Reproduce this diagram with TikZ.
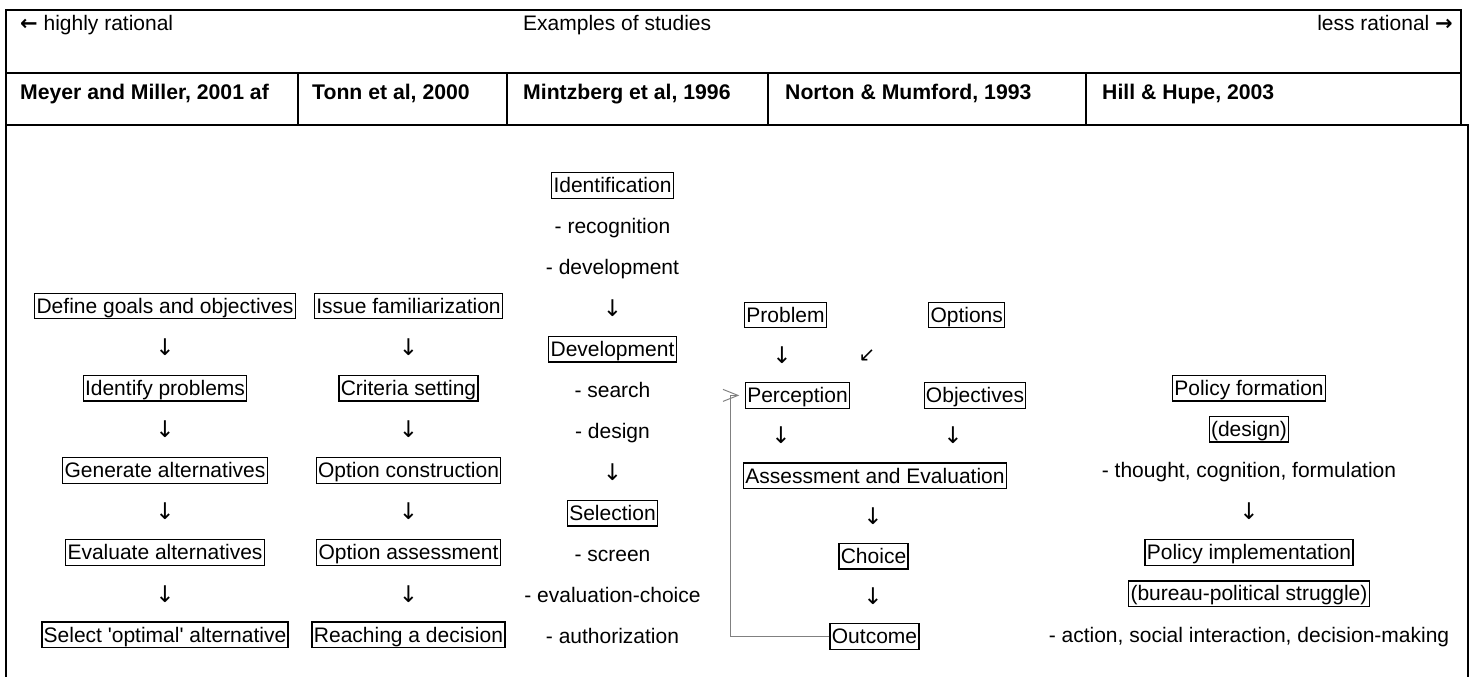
\documentclass[tikz,border=0pt]{standalone}
\usepackage{fontspec}
\setmainfont{Liberation Sans}[Ligatures=TeXOff]
\newfontfamily\symfont{DejaVu Sans}
\usetikzlibrary{arrows.meta}

\begin{document}
\begin{tikzpicture}[x=1pt,y=-1pt,
  every node/.style={font=\fontsize{21}{24}\selectfont, inner sep=0pt},
  item/.style={text height=18.8pt, text depth=4.4pt, inner xsep=1.8pt, inner ysep=1.2pt},
  boxed/.style={item, draw, line width=1.3pt},
  plain/.style={item},
  down/.style={font=\symfont\fontsize{23}{26}\selectfont},
  diag/.style={font=\symfont\fontsize{20}{24}\selectfont},
  head/.style={anchor=base west},
  colhead/.style={anchor=base west, font=\fontsize{21.2}{24}\selectfont\bfseries},
  rule/.style={line width=2pt, line cap=rect},
  feedback/.style={draw=black!50, line width=1pt,
    -{Straight Barb[length=15pt, width=12pt, line width=1pt]}, shorten >=5.5pt}
]
\useasboundingbox (0,0) rectangle (1473,677);

% table frame
\draw[rule] (6,677) -- (6,10) -- (1461,10) -- (1461,124.5);
\draw[rule] (6,73) -- (1461,73);
\draw[rule] (6,124.5) -- (1468,124.5) -- (1468,677);
\foreach \x in {298,507,768,1086} \draw[rule] (\x,73) -- (\x,124.5);

% header rows
\node[head] (lefthead) at (20,30.5) {{\symfont\bfseries ←} highly rational};
\node[head] (midhead) at (523,30.5) {Examples of studies};
\node[head, anchor=base east] (righthead) at (1453,30.5) {less rational {\symfont\bfseries →}};

\node[colhead] (h1) at (20,99.5) {Meyer and Miller, 2001 af};
\node[colhead] (h2) at (312,99.5) {Tonn et al, 2000};
\node[colhead] (h3) at (523,99.5) {Mintzberg et al, 1996};
\node[colhead] (h4) at (785,99.5) {Norton \& Mumford, 1993};
\node[colhead] (h5) at (1102,99.5) {Hill \& Hupe, 2003};

% Meyer and Miller
\node[boxed] (m1) at (165,306.0) {Define goals and objectives};
\node[down] (m1d) at (165,347.1) {↓};
\node[boxed] (m2) at (165,388.2) {Identify problems};
\node[down] (m2d) at (165,429.3) {↓};
\node[boxed] (m3) at (165,470.4) {Generate alternatives};
\node[down] (m3d) at (165,511.5) {↓};
\node[boxed] (m4) at (165,552.6) {Evaluate alternatives};
\node[down] (m4d) at (165,593.7) {↓};
\node[boxed] (m5) at (165,634.8) {Select 'optimal' alternative};

% Tonn et al
\node[boxed] (t1) at (408.5,306.0) {Issue familiarization};
\node[down] (t1d) at (408.5,347.1) {↓};
\node[boxed] (t2) at (408.5,388.2) {Criteria setting};
\node[down] (t2d) at (408.5,429.3) {↓};
\node[boxed] (t3) at (408.5,470.4) {Option construction};
\node[down] (t3d) at (408.5,511.5) {↓};
\node[boxed] (t4) at (408.5,552.6) {Option assessment};
\node[down] (t4d) at (408.5,593.7) {↓};
\node[boxed] (t5) at (408.5,634.8) {Reaching a decision};

% Mintzberg et al
\node[boxed] (z1) at (612.5,185.5) {Identification};
\node[plain] (z1a) at (612.5,226.5) {- recognition};
\node[plain] (z1b) at (612.5,267.4) {- development};
\node[down] (z1d) at (612.5,308.4) {↓};
\node[boxed] (z2) at (612.5,349.3) {Development};
\node[plain] (z2a) at (612.5,390.3) {- search};
\node[plain] (z2b) at (612.5,431.2) {- design};
\node[down] (z2d) at (612.5,472.2) {↓};
\node[boxed] (z3) at (612.5,513.1) {Selection};
\node[plain] (z3a) at (612.5,554.1) {- screen};
\node[plain] (z3b) at (612.5,595.0) {- evaluation-choice};
\node[plain] (z3c) at (612.5,636.0) {- authorization};

% Norton & Mumford
\node[boxed] (problem) at (785.5,315.0) {Problem};
\node[boxed] (options) at (966.7,315.0) {Options};
\node[down] (problemd) at (782,355.2) {↓};
\node[diag] (optionsd) at (867,355.2) {↙};
\node[boxed] (perception) at (797.5,395.4) {Perception};
\node[boxed] (objectives) at (975,395.4) {Objectives};
\node[down] (perceptiond) at (781,435.6) {↓};
\node[down] (objectivesd) at (953,435.6) {↓};
\node[boxed] (assess) at (875,475.8) {Assessment and Evaluation};
\node[down] (assessd) at (873,516.0) {↓};
\node[boxed] (choice) at (873.5,556.2) {Choice};
\node[down] (choiced) at (873,596.4) {↓};
\node[boxed] (outcome) at (874.5,636.6) {Outcome};

\coordinate (loopx) at (730,0);
\draw[feedback] (outcome.west) -- (outcome.west -| loopx) |- (perception.west);

% Hill & Hupe
\node[boxed] (p1) at (1249,388.2) {Policy formation};
\node[boxed] (p1b) at (1249,429.3) {(design)};
\node[plain] (p1c) at (1249,470.4) {- thought, cognition, formulation};
\node[down] (p1d) at (1249,511.5) {↓};
\node[boxed] (p2) at (1249,552.6) {Policy implementation};
\node[boxed] (p2b) at (1249,593.7) {(bureau-political struggle)};
\node[plain] (p2c) at (1249,634.8) {- action, social interaction, decision-making};
\end{tikzpicture}
\end{document}
